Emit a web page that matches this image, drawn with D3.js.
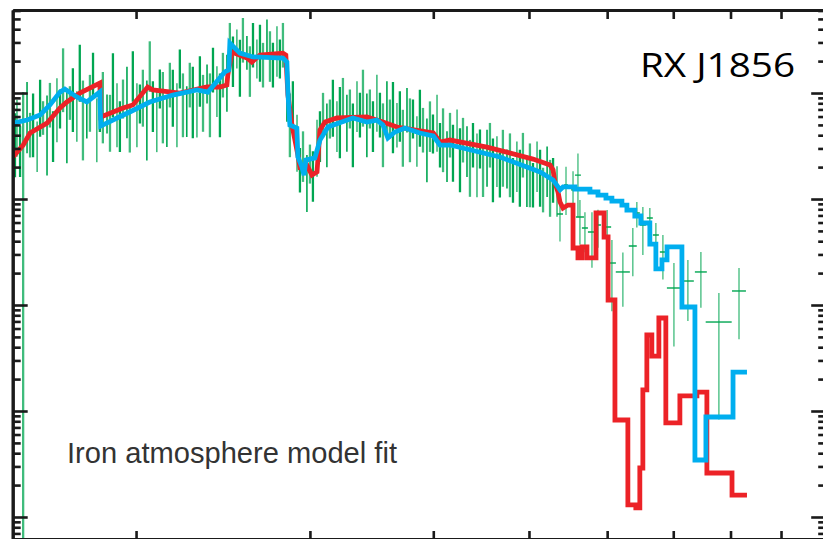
<!DOCTYPE html>
<html>
<head>
<meta charset="utf-8">
<script src="https://cdn.jsdelivr.net/npm/d3@7"></script>
<style>
  body { margin: 0; background: #fff; }
  svg { display: block; }
</style>
</head>
<body>
<div class="spectrum"></div>
<script>
const width = 823;
const height = 539;

// energy axis (keV), flux axis (arbitrary units, log)
const xTicks = [0.2, 0.3, 0.4, 0.5, 0.6, 0.7, 0.8, 0.9];
const yMajor = [0.01, 0.1, 1, 10, 100];

// observed spectrum, dense part: [energy, flux, relative error]
const specDense = [
  [0.1508, 40.2, 0.6], [0.1515, 55.6, 0.55], [0.1526, 32.3, 0.5], [0.1537, 49.9, 1.05], [0.1551, 77.1, 0.65],
  [0.1562, 44.8, 0.45], [0.1573, 62.0, 0.6], [0.1588, 36.0, 0.5], [0.1599, 85.9, 0.55], [0.1610, 62.0, 0.35],
  [0.1625, 55.6, 0.7], [0.1636, 85.9, 0.45], [0.1648, 44.8, 0.5], [0.1663, 85.9, 0.6], [0.1675, 77.1, 0.4],
  [0.1687, 165, 0.6], [0.1702, 62.0, 0.65], [0.1714, 85.9, 0.35], [0.1726, 107, 0.6], [0.1742, 69.2, 0.5],
  [0.1754, 184, 0.55], [0.1767, 77.1, 0.7], [0.1783, 62.0, 0.4], [0.1796, 95.7, 0.55], [0.1809, 165, 0.45],
  [0.1825, 55.6, 0.6], [0.1838, 85.9, 0.5], [0.1851, 95.7, 0.65], [0.1869, 69.2, 0.4], [0.1882, 62.0, 0.55],
  [0.1895, 148, 0.6], [0.1913, 77.1, 0.6], [0.1926, 55.6, 0.5], [0.1940, 95.7, 0.4], [0.1958, 107, 0.65],
  [0.1971, 49.9, 0.45], [0.1985, 165, 0.5], [0.2004, 77.1, 0.6], [0.2018, 85.9, 0.4], [0.2032, 107, 0.55],
  [0.2051, 77.1, 0.7], [0.2065, 205, 0.5], [0.2080, 85.9, 0.5], [0.2099, 69.2, 0.6], [0.2114, 119, 0.4],
  [0.2129, 95.7, 0.65], [0.2149, 62.0, 0.5], [0.2164, 133, 0.45], [0.2179, 107, 0.55], [0.2200, 77.1, 0.6],
  [0.2215, 184, 0.4], [0.2231, 95.7, 0.6], [0.2251, 77.1, 0.5], [0.2267, 133, 0.45], [0.2283, 107, 0.65],
  [0.2305, 69.2, 0.45], [0.2321, 148, 0.5], [0.2338, 95.7, 0.55], [0.2360, 133, 0.4], [0.2376, 95.7, 0.6],
  [0.2393, 184, 0.45], [0.2415, 119, 0.5], [0.2432, 95.7, 0.6], [0.2449, 165, 0.45], [0.2472, 148, 0.55],
  [0.2489, 316, 0.45], [0.2507, 228, 0.5], [0.2530, 284, 0.4], [0.2548, 205, 0.55], [0.2566, 352, 0.45],
  [0.2590, 255, 0.35], [0.2608, 184, 0.5], [0.2627, 316, 0.45], [0.2651, 228, 0.4], [0.2670, 284, 0.55],
  [0.2689, 205, 0.45], [0.2714, 352, 0.4], [0.2733, 255, 0.5], [0.2752, 205, 0.45], [0.2778, 284, 0.5],
  [0.2797, 228, 0.4], [0.2817, 316, 0.45], [0.2843, 119, 0.55], [0.2863, 62.0, 0.6], [0.2883, 85.9, 0.5],
  [0.2911, 40.2, 0.55], [0.2931, 20.9, 0.45], [0.2952, 29.0, 0.5], [0.2979, 16.8, 0.55], [0.3000, 23.3, 0.4],
  [0.3021, 18.8, 0.5], [0.3050, 36.0, 0.55], [0.3071, 44.8, 0.5], [0.3093, 69.2, 0.45], [0.3121, 49.9, 0.6],
  [0.3143, 62.0, 0.4], [0.3165, 85.9, 0.55], [0.3195, 55.6, 0.5], [0.3217, 69.2, 0.65], [0.3240, 95.7, 0.45],
  [0.3270, 62.0, 0.55], [0.3293, 77.1, 0.4], [0.3316, 49.9, 0.6], [0.3348, 85.9, 0.5], [0.3371, 69.2, 0.45],
  [0.3395, 107, 0.55], [0.3426, 62.0, 0.6], [0.3450, 77.1, 0.4], [0.3475, 55.6, 0.5], [0.3507, 95.7, 0.55],
  [0.3532, 69.2, 0.45], [0.3557, 49.9, 0.6], [0.3590, 85.9, 0.5], [0.3615, 62.0, 0.4], [0.3641, 77.1, 0.65],
  [0.3675, 55.6, 0.45], [0.3700, 69.2, 0.5], [0.3726, 44.8, 0.55], [0.3762, 77.1, 0.45], [0.3788, 55.6, 0.6],
  [0.3815, 62.0, 0.4], [0.3850, 40.2, 0.5], [0.3877, 69.2, 0.55], [0.3905, 49.9, 0.45], [0.3941, 36.0, 0.6],
  [0.3969, 55.6, 0.5], [0.3997, 44.8, 0.4], [0.4035, 62.0, 0.55], [0.4063, 36.0, 0.45], [0.4092, 44.8, 0.6],
  [0.4130, 29.0, 0.5], [0.4159, 44.8, 0.45], [0.4188, 32.3, 0.55], [0.4228, 49.9, 0.4], [0.4257, 29.0, 0.6],
  [0.4287, 40.2, 0.45], [0.4327, 32.3, 0.5], [0.4357, 23.3, 0.55], [0.4388, 36.0, 0.45], [0.4429, 26.0, 0.6],
  [0.4460, 32.3, 0.4], [0.4492, 20.9, 0.5], [0.4534, 29.0, 0.55], [0.4565, 36.0, 0.45], [0.4597, 23.3, 0.6],
  [0.4640, 26.0, 0.5], [0.4672, 18.8, 0.45], [0.4705, 29.0, 0.55], [0.4750, 20.9, 0.4], [0.4783, 26.0, 0.6],
  [0.4817, 16.8, 0.45], [0.4861, 23.3, 0.5], [0.4895, 18.8, 0.55], [0.4930, 29.0, 0.45], [0.4976, 16.8, 0.5],
  [0.5011, 20.9, 0.6], [0.5047, 15.1, 0.45], [0.5095, 23.3, 0.5], [0.5131, 18.8, 0.55], [0.5167, 13.6, 0.45],
  [0.5216, 20.9, 0.5], [0.5252, 15.1, 0.55], [0.5289, 16.8, 0.45], [0.5338, 13.6, 0.5]
];

// observed spectrum, binned high-energy part: [energy, bin half width, flux, relative error]
const specBinned = [
  [0.5375, 0.0038, 7.22, 0.45], [0.5451, 0.0025, 13.6, 0.48], [0.5541, 0.0026, 12.2, 0.5],
  [0.5605, 0.0039, 16.8, 0.6], [0.5631, 0.0053, 6.76, 0.45], [0.5697, 0.0040, 5.32, 0.41],
  [0.5791, 0.0054, 4.88, 0.54], [0.5873, 0.0041, 5.69, 0.39], [0.6000, 0.0056, 5.44, 0.45],
  [0.6067, 0.0057, 2.49, 0.65], [0.6224, 0.0102, 2.05, 0.53], [0.6370, 0.0059, 3.60, 0.48],
  [0.6430, 0.0045, 7.38, 0.27], [0.6521, 0.0046, 5.69, 0.48], [0.6628, 0.0046, 6.62, 0.24],
  [0.6722, 0.0047, 4.57, 0.3], [0.6833, 0.0048, 3.16, 0.45], [0.7011, 0.0114, 1.447, 0.72],
  [0.7243, 0.0101, 1.684, 0.58], [0.7466, 0.0104, 2.05, 0.54], [0.7786, 0.0236, 0.691, 0.88],
  [0.8160, 0.0133, 1.356, 0.65]
];

// iron atmosphere model A (red): [energy, flux]
const modelRed = [
  [0.1501, 24.9], [0.1537, 32.3], [0.1562, 41.9], [0.1625, 52.1], [0.1675, 72.2], [0.1702, 82.3],
  [0.1754, 100], [0.1838, 124], [0.1842, 59.4], [0.1940, 72.2], [0.1985, 77.1], [0.2055, 114],
  [0.2079, 107], [0.2215, 100], [0.2360, 114], [0.2432, 114], [0.2472, 119], [0.2477, 148],
  [0.2501, 244], [0.2590, 214], [0.2620, 196], [0.2670, 228], [0.2817, 238], [0.2836, 228],
  [0.2850, 95.7], [0.2877, 49.9], [0.2917, 26.0], [0.2931, 20.0], [0.2979, 20.9], [0.3014, 16.8],
  [0.3050, 18.0], [0.3071, 44.8], [0.3107, 53.2], [0.3195, 58.1], [0.3426, 59.4], [0.3557, 53.2],
  [0.3675, 47.8], [0.4000, 41.9], [0.4063, 34.5], [0.4159, 36.0], [0.4533, 30.9], [0.5047, 23.8],
  [0.5252, 20.9], [0.5289, 18.8], [0.5313, 14.2], [0.5350, 11.65], [0.5375, 9.37], [0.5413, 8.22],
  [0.5476, 8.77], [0.5541, 8.77], [0.5541, 3.45], [0.5605, 3.45], [0.5605, 2.78], [0.5658, 2.78],
  [0.5658, 3.53], [0.5724, 3.53], [0.5724, 2.78], [0.5846, 2.78], [0.5846, 7.38], [0.5957, 7.38],
  [0.5957, 4.38], [0.6013, 4.38], [0.6013, 1.115], [0.6110, 1.115], [0.6110, 0.0822], [0.6297, 0.0822],
  [0.6297, 0.0130], [0.6415, 0.0130], [0.6415, 0.0122], [0.6475, 0.0122], [0.6475, 0.0290], [0.6521, 0.0290],
  [0.6521, 0.158], [0.6582, 0.158], [0.6582, 0.521], [0.6659, 0.521], [0.6659, 0.330], [0.6769, 0.330],
  [0.6769, 0.754], [0.6880, 0.754], [0.6880, 0.0771], [0.7109, 0.0771], [0.7109, 0.139], [0.7397, 0.139],
  [0.7397, 0.151], [0.7571, 0.151], [0.7571, 0.0260], [0.8028, 0.0260], [0.8028, 0.0161], [0.8313, 0.0161]
];

// iron atmosphere model B (blue): [energy, flux]
const modelBlue = [
  [0.1501, 52.1], [0.1551, 55.6], [0.1599, 62.0], [0.1636, 77.1], [0.1675, 102], [0.1694, 109],
  [0.1742, 91.7], [0.1783, 82.3], [0.1838, 102], [0.1842, 48.8], [0.1913, 58.1], [0.1971, 66.2],
  [0.2065, 82.3], [0.2179, 95.7], [0.2305, 107], [0.2365, 102], [0.2460, 158], [0.2483, 165],
  [0.2489, 296], [0.2548, 238], [0.2627, 219], [0.2817, 214], [0.2843, 196], [0.2850, 100],
  [0.2863, 49.9], [0.2910, 46.7], [0.2917, 24.9], [0.2945, 20.0], [0.2959, 16.8], [0.2972, 23.3],
  [0.3035, 24.4], [0.3071, 36.0], [0.3129, 47.8], [0.3316, 58.1], [0.3426, 53.2], [0.3507, 55.6],
  [0.3557, 49.9], [0.3598, 37.6], [0.3657, 42.9], [0.3744, 46.7], [0.3877, 41.9], [0.4000, 39.3],
  [0.4063, 32.3], [0.4159, 32.3], [0.4672, 24.9], [0.5131, 18.0], [0.5289, 15.1], [0.5350, 13.0],
  [0.5375, 12.2], [0.5413, 13.0], [0.5566, 13.0], [0.5566, 12.4], [0.5764, 12.4], [0.5764, 11.65],
  [0.5873, 11.65], [0.5873, 10.9], [0.5983, 10.9], [0.5983, 10.2], [0.6067, 10.2], [0.6067, 9.57],
  [0.6210, 9.57], [0.6210, 8.77], [0.6283, 8.77], [0.6283, 7.87], [0.6400, 7.87], [0.6400, 6.91],
  [0.6490, 6.91], [0.6490, 5.94], [0.6628, 5.94], [0.6628, 3.76], [0.6722, 3.76], [0.6722, 2.19],
  [0.6818, 2.19], [0.6818, 2.66], [0.6899, 2.66], [0.6899, 3.53], [0.7143, 3.53], [0.7143, 0.958],
  [0.7363, 0.958], [0.7363, 0.0345], [0.7554, 0.0345], [0.7554, 0.0878], [0.8047, 0.0878], [0.8047, 0.233],
  [0.8313, 0.233]
];

const labelSource = "RX J1856";
const labelModel = "Iron atmosphere model fit";

const green = "#00a651";
const red = "#ec2227";
const blue = "#00aeef";

const svg = d3.select(".spectrum")
    .append("svg")
    .attr("width", width)
    .attr("height", height);

const x = d3.scaleLog().domain([0.15, 1.0]).range([12.7, 826.2]);
const y = d3.scaleLog().domain([0.0062, 607]).range([539, 10]);

const [x0, x1] = x.range();
const [yBottom, yTop] = y.range();

svg.append("defs").append("clipPath")
    .attr("id", "plot-clip")
    .append("rect")
    .attr("x", x0).attr("y", yTop)
    .attr("width", x1 - x0).attr("height", yBottom - yTop);

const plot = svg.append("g").attr("clip-path", "url(#plot-clip)");

// lower end of an error bar, down to the frame when it goes below zero
function lowEnd(f, r) {
    const lo = f * (1 - r);
    return lo > y.domain()[0] ? y(lo) : yBottom;
}

/* DATA */
plot.append("g")
    .selectAll("line")
    .data(specDense)
    .enter()
    .append("line")
    .attr("x1", d => x(d[0]))
    .attr("x2", d => x(d[0]))
    .attr("y1", d => y(d[1] * (1 + d[2])))
    .attr("y2", d => lowEnd(d[1], d[2]))
    .attr("stroke", green)
    .attr("stroke-width", (d, i) => i % 3 === 1 ? 1.6 : 2.3)
    .attr("opacity", (d, i) => i % 2 ? 0.75 : 1);

const binned = plot.append("g")
    .selectAll("g")
    .data(specBinned)
    .enter()
    .append("g")
    .attr("stroke", green)
    .attr("stroke-width", 1.4);

binned.append("line")
    .attr("x1", d => x(d[0]))
    .attr("x2", d => x(d[0]))
    .attr("y1", d => y(d[2] * (1 + d[3])))
    .attr("y2", d => lowEnd(d[2], d[3]))
    .attr("opacity", 0.7);

binned.append("line")
    .attr("x1", d => x(d[0] - d[1]))
    .attr("x2", d => x(d[0] + d[1]))
    .attr("y1", d => y(d[2]))
    .attr("y2", d => y(d[2]));

/* MODELS */
const line = d3.line()
    .x(d => x(d[0]))
    .y(d => y(d[1]));

plot.append("path")
    .datum(modelRed)
    .attr("d", line)
    .attr("fill", "none")
    .attr("stroke", red)
    .attr("stroke-width", 4.8)
    .attr("stroke-linejoin", "miter");

plot.append("path")
    .datum(modelBlue)
    .attr("d", line)
    .attr("fill", "none")
    .attr("stroke", blue)
    .attr("stroke-width", 4.8)
    .attr("stroke-linejoin", "miter");

/* AXES */
const yMinor = [];
[0.001, 0.01, 0.1, 1, 10, 100].forEach(dec => {
    for (let k = 2; k <= 9; k++) {
        const v = k * dec;
        if (v > y.domain()[0] && v < y.domain()[1]) yMinor.push(v);
    }
});

function styleAxis(g) {
    g.select(".domain").attr("stroke", "#1a1a1a").attr("stroke-width", 3);
    g.selectAll(".tick line").attr("stroke", "#1a1a1a").attr("stroke-width", 2.6);
    g.selectAll(".tick text").remove();
}

// left
svg.append("g")
    .attr("transform", `translate(${x0},0)`)
    .call(d3.axisLeft(y).tickValues(yMajor).tickSizeInner(-15).tickSizeOuter(0).tickFormat(""))
    .call(styleAxis);
svg.append("g")
    .attr("transform", `translate(${x0},0)`)
    .call(d3.axisLeft(y).tickValues(yMinor).tickSizeInner(-8).tickSizeOuter(0).tickFormat(""))
    .call(styleAxis);

// right
svg.append("g")
    .attr("transform", `translate(${x1},0)`)
    .call(d3.axisRight(y).tickValues(yMajor).tickSizeInner(-15).tickSizeOuter(0).tickFormat(""))
    .call(styleAxis);
svg.append("g")
    .attr("transform", `translate(${x1},0)`)
    .call(d3.axisRight(y).tickValues(yMinor).tickSizeInner(-8).tickSizeOuter(0).tickFormat(""))
    .call(styleAxis);

// top
svg.append("g")
    .attr("transform", `translate(0,${yTop})`)
    .call(d3.axisTop(x).tickValues(xTicks).tickSizeInner(-9).tickSizeOuter(0).tickFormat(""))
    .call(styleAxis);

// bottom
svg.append("g")
    .attr("transform", `translate(0,${yBottom})`)
    .call(d3.axisBottom(x).tickValues(xTicks).tickSizeInner(-8).tickSizeOuter(0).tickFormat(""))
    .call(styleAxis);

/* LABELS */
svg.append("text")
    .attr("x", 640)
    .attr("y", 77)
    .attr("font-family", "'Open Sans', 'Noto Sans', sans-serif")
    .attr("font-size", 33)
    .attr("textLength", 155)
    .attr("lengthAdjust", "spacingAndGlyphs")
    .attr("fill", "#000")
    .text(labelSource);

svg.append("text")
    .attr("x", 67)
    .attr("y", 463)
    .attr("font-family", "'Liberation Sans', Arial, sans-serif")
    .attr("font-size", 30)
    .attr("textLength", 330)
    .attr("lengthAdjust", "spacingAndGlyphs")
    .attr("fill", "#333")
    .text(labelModel);
</script>
</body>
</html>
